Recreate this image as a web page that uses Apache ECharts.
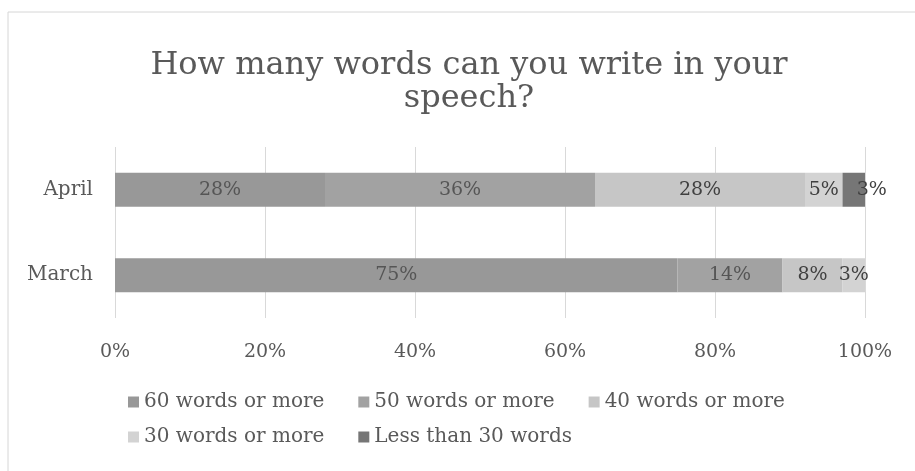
<!DOCTYPE html>
<html>
<head>
<meta charset="utf-8">
<script src="https://cdn.jsdelivr.net/npm/echarts@6/dist/echarts.min.js"></script>
<style>html,body{margin:0;padding:0;background:#fff}#c{width:915px;height:471px}</style>
</head>
<body>
<div id="c"></div>
<script>
var titleText = 'How many words can you write in your\nspeech?';
var categories = ['April', 'March'];
var seriesNames = ['60 words or more', '50 words or more', '40 words or more', '30 words or more', 'Less than 30 words'];
var s60 = [28, 75];
var s50 = [36, 14];
var s40 = [28, 8];
var s30 = [5, 3];
var sLess = [3, null];
var xTicks = [0, 20, 40, 60, 80, 100];

var values = [s60, s50, s40, s30, sLess];
var colors = ['#989898', '#a2a2a2', '#c6c6c6', '#d3d3d3', '#767676'];
var FONT = 'DejaVu Serif';

var chart = echarts.init(document.getElementById('c'));
var series = seriesNames.map(function (name, i) {
  return {
    name: name,
    type: 'bar',
    stack: 'total',
    barWidth: 34,
    itemStyle: { color: colors[i] },
    label: {
      show: true,
      position: 'inside',
      formatter: function (p) { return p.value == null ? '' : p.value + '%'; },
      fontFamily: FONT,
      fontSize: 19,
      color: i < 2 ? '#555555' : '#404040'
    },
    data: values[i].map(function (v, j) {
      if (i === 4 && j === 0) {
        return { value: v, label: { offset: [18, 0] } };
      }
      return v;
    })
  };
});

function legendAt(names, top) {
  return {
    data: names,
    left: 123,
    top: top,
    itemWidth: 11,
    itemHeight: 11,
    itemGap: 34,
    icon: 'rect',
    textStyle: { fontFamily: FONT, fontSize: 20, color: '#595959' }
  };
}

chart.setOption({
  animation: false,
  backgroundColor: '#ffffff',
  graphic: [{
    type: 'rect',
    shape: { x: 8, y: 12, width: 940, height: 500 },
    style: { fill: 'none', stroke: '#d6d6d6', lineWidth: 1 },
    silent: true
  }],
  title: {
    text: titleText,
    left: 464,
    top: 44,
    textAlign: 'center',
    textStyle: {
      fontFamily: FONT,
      fontWeight: 'normal',
      fontSize: 32,
      lineHeight: 33,
      color: '#595959'
    }
  },
  grid: { left: 115, right: 50, top: 147, bottom: 153 },
  xAxis: {
    type: 'value',
    min: 0,
    max: 100,
    interval: 20,
    axisLine: { show: false },
    axisTick: { show: false },
    splitLine: { lineStyle: { color: '#d9d9d9', width: 1 } },
    axisLabel: {
      formatter: function (v) { return xTicks.indexOf(v) >= 0 ? v + '%' : ''; },
      fontFamily: FONT,
      fontSize: 19,
      color: '#595959',
      margin: 25
    }
  },
  yAxis: {
    type: 'category',
    data: categories,
    inverse: true,
    axisLine: { show: false },
    axisTick: { show: false },
    axisLabel: { fontFamily: FONT, fontSize: 20, color: '#595959', margin: 22 }
  },
  legend: [
    legendAt(seriesNames.slice(0, 3), 387),
    legendAt(seriesNames.slice(3), 422)
  ],
  series: series
});
</script>
</body>
</html>
